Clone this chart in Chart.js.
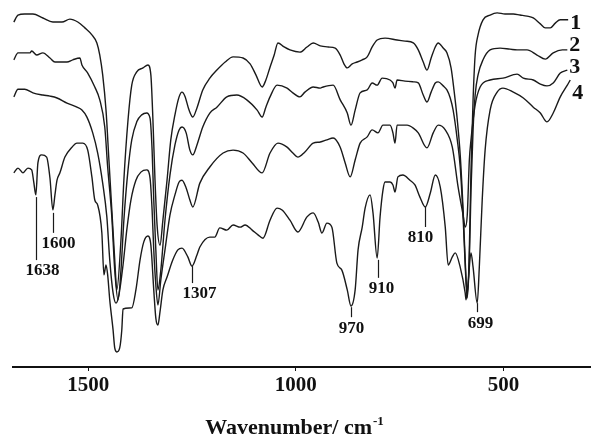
<!DOCTYPE html>
<html>
<head>
<meta charset="utf-8">
<script src="https://cdn.jsdelivr.net/npm/chart.js@4.4.1/dist/chart.umd.min.js"></script>
<style>
  html, body { margin: 0; padding: 0; background: #fff; }
  #irChart { display: block; }
</style>
</head>
<body>
<canvas id="irChart" width="591" height="438"></canvas>
<script>
// x = wavenumber (cm-1), y = transmittance (arbitrary %)
const wn1 = [1679,1669,1653,1633,1609,1585,1563,1544,1525,1508,1491,1479,1472,1465,1457,1450,1443,1436,1431,1421,1414,1404,1395,1383,1368,1356,1349,1344,1339,1334,1327,1320,1310,1301,1291,1281,1274,1267,1257,1248,1238,1224,1207,1190,1170,1151,1127,1110,1096,1081,1072,1062,1052,1043,1028,1014,990,973,958,941,922,905,893,884,876,864,852,840,828,816,804,785,756,737,717,705,693,684,674,664,657,645,636,626,619,611,604,597,592,587,582,578,573,568,561,549,532,515,496,476,460,443,428,411,399,387,375,363,344];
const tr1 = [94.0,95.9,96.2,96.2,95.1,94.0,94.0,94.8,94.0,92.4,90.5,88.3,85.0,79.6,70.0,56.4,42.8,29.2,21.0,34.6,50.9,67.3,76.8,80.4,81.5,82.3,79.6,67.3,50.9,38.7,33.2,40.0,50.9,61.9,68.7,73.6,74.9,73.8,70.0,68.1,70.6,75.5,78.7,80.9,83.1,84.5,84.2,82.6,79.6,76.3,78.2,81.7,85.0,88.3,87.2,86.4,85.8,87.2,88.3,87.5,87.2,86.9,85.0,82.6,81.5,82.6,83.1,83.7,84.5,87.2,89.1,89.6,89.1,88.8,88.3,86.4,83.1,80.9,84.2,87.2,88.3,86.9,85.6,81.5,75.5,67.3,57.8,42.8,29.2,19.6,31.9,53.7,72.8,85.0,90.5,94.6,95.9,96.5,96.2,96.2,95.9,95.6,95.1,93.5,92.4,92.4,93.7,94.6,94.6];

const wn2 = [1679,1669,1640,1636,1624,1609,1592,1580,1563,1551,1537,1520,1515,1501,1484,1472,1460,1453,1443,1436,1428,1421,1414,1404,1395,1383,1371,1359,1351,1346,1342,1337,1332,1325,1315,1303,1291,1281,1274,1264,1255,1248,1238,1224,1207,1190,1166,1142,1118,1093,1081,1072,1062,1045,1021,1007,990,978,958,941,934,910,893,876,867,857,845,828,816,804,792,773,766,761,756,737,717,705,693,684,674,664,657,645,636,628,621,611,604,597,592,587,582,578,573,568,561,549,532,508,484,467,443,419,399,380,358,346];
const tr2 = [83.7,85.6,85.6,86.1,85.0,85.6,84.2,83.1,83.1,83.1,83.7,84.2,82.3,80.1,76.3,72.8,65.4,54.5,40.9,26.4,18.3,26.4,40.0,53.7,61.9,66.8,68.7,69.2,67.8,59.1,45.5,31.9,21.0,26.4,40.0,52.3,60.5,64.6,65.4,63.8,59.1,57.8,60.5,65.4,69.2,70.8,73.6,74.1,72.8,70.0,68.1,70.8,73.6,76.8,76.0,74.7,73.6,74.9,76.3,76.0,76.3,76.8,72.8,69.2,65.9,70.0,74.7,75.5,77.4,76.8,78.7,78.2,77.4,76.0,78.2,77.9,77.7,77.4,74.1,72.2,74.9,77.4,77.7,76.6,75.5,73.3,70.0,61.9,54.5,40.9,27.8,18.8,29.2,48.2,64.6,74.1,79.6,83.7,86.4,86.9,86.6,86.4,86.4,85.0,83.9,85.6,86.4,86.4];

const wn3 = [1679,1669,1653,1633,1609,1592,1575,1551,1527,1515,1503,1489,1477,1465,1455,1448,1440,1433,1426,1416,1407,1397,1385,1373,1359,1351,1346,1342,1337,1332,1325,1315,1303,1291,1281,1274,1264,1255,1248,1231,1207,1175,1151,1127,1105,1081,1062,1043,1021,1007,995,978,958,941,925,910,893,881,869,857,845,828,816,802,790,773,766,761,756,732,717,705,684,669,657,640,623,609,597,592,587,582,578,568,556,532,501,467,452,428,411,395,380,363,346];
const tr3 = [73.6,75.7,75.7,74.7,74.1,73.8,73.3,71.9,70.8,70.0,68.1,63.8,58.3,50.1,40.9,29.2,20.2,17.4,19.6,27.8,37.3,45.5,50.9,53.1,53.7,51.5,42.8,31.9,22.3,16.9,23.7,31.9,41.4,46.9,50.4,50.9,48.8,45.5,43.6,50.1,54.5,58.3,59.1,58.3,55.6,52.9,58.3,61.0,59.9,58.3,57.2,58.6,61.0,61.3,61.9,62.4,59.9,55.6,51.8,56.4,61.0,62.7,64.6,63.8,65.9,65.9,63.8,61.0,65.9,65.9,65.1,63.8,59.7,63.8,65.9,64.6,59.9,49.0,41.4,38.1,41.4,56.4,61.9,71.4,76.3,78.2,78.7,79.8,78.7,78.2,77.1,76.6,77.4,80.1,80.9];

const wn4 = [1679,1669,1657,1645,1636,1631,1626,1621,1612,1600,1592,1585,1580,1575,1568,1556,1539,1527,1513,1501,1491,1484,1477,1467,1462,1457,1453,1448,1440,1436,1431,1424,1419,1416,1395,1385,1375,1366,1356,1349,1342,1337,1332,1327,1320,1310,1296,1284,1274,1260,1250,1238,1231,1207,1195,1183,1166,1151,1134,1122,1105,1091,1079,1062,1045,1033,1014,995,973,958,946,937,925,913,901,889,876,867,857,850,840,833,821,814,804,797,790,785,773,766,761,754,742,725,713,701,688,676,664,652,640,633,623,616,604,592,590,585,578,573,563,558,551,544,532,515,501,476,452,428,411,395,380,363,346,339];
const tr4 = [52.9,54.2,52.9,54.2,53.7,50.4,46.9,55.6,57.8,57.2,51.5,42.8,46.9,50.9,52.9,57.2,59.9,61.0,61.0,59.1,51.8,45.5,44.1,36.5,25.1,27.8,25.1,18.3,10.1,5.2,4.1,5.2,10.1,15.8,16.1,21.0,29.2,34.1,35.7,33.2,21.0,13.3,11.4,15.0,21.0,24.5,29.2,31.9,32.4,30.0,27.5,30.5,32.7,35.4,35.4,37.9,37.3,38.7,38.1,38.7,37.3,36.0,35.1,40.0,43.3,42.8,40.0,36.8,40.9,42.0,39.5,36.5,39.2,38.1,28.3,26.4,21.0,16.6,21.0,31.9,38.1,43.3,46.9,42.0,29.7,40.9,48.2,50.4,50.4,49.6,47.7,51.8,52.3,50.9,49.6,46.3,43.6,47.4,52.3,49.0,38.1,27.8,30.0,31.1,27.2,20.2,18.3,22.9,31.1,27.2,17.4,27.2,45.5,59.1,70.0,74.9,76.0,74.9,73.3,70.8,69.2,66.8,69.2,73.6,76.8,78.2];

const seriesNames = ['1', '2', '3', '4'];
const xTicks = [1500, 1000, 500];

// marked bands on spectrum 4
const peakLabels = ['1638', '1600', '1307', '970', '910', '810', '699'];
const peakWn = [1626, 1585, 1250, 867, 802, 688, 563];
const peakT = [46.3, 42.0, 27.5, 16.3, 29.2, 43.6, 17.4];

const serif = "'Liberation Serif', 'Times New Roman', serif";

function toPoints(xs, ys) {
  return xs.map((x, i) => ({ x: x, y: ys[i] }));
}

const annotate = {
  id: 'annotate',
  afterDatasetsDraw(chart) {
    const c = chart.ctx;
    const xs = chart.scales.x, ys = chart.scales.y;
    const leaderLen = [63, 20, 17, 10, 18, 20, 9];
    const textDx = [6, 5, 7, 0, 3, -5, 3];
    c.save();
    c.strokeStyle = '#1a1a1a';
    c.lineWidth = 1.2;
    c.fillStyle = '#111';
    c.font = 'bold 17px ' + serif;
    c.textAlign = 'center';
    c.textBaseline = 'middle';
    peakLabels.forEach((lab, i) => {
      const px = Math.round(xs.getPixelForValue(peakWn[i])) + 0.5;
      const top = ys.getPixelForValue(peakT[i]);
      const bot = top + leaderLen[i];
      c.beginPath();
      c.moveTo(px, top);
      c.lineTo(px, bot);
      c.stroke();
      c.fillText(lab, px + textDx[i], bot + 11);
    });

    // curve numbers at the right end
    const nameDy = [3, -5, -3, 13];
    c.font = 'bold 22px ' + serif;
    c.textAlign = 'left';
    chart.data.datasets.forEach((ds, i) => {
      const pts = chart.getDatasetMeta(i).data;
      const last = pts[pts.length - 1];
      c.fillText(seriesNames[i], last.x + 2, last.y + nameDy[i]);
    });

    // axis title with superscript
    const main = 'Wavenumber/ cm';
    const sup = '-1';
    c.font = 'bold 22px ' + serif;
    const w1 = c.measureText(main).width;
    c.font = 'bold 13px ' + serif;
    const w2 = c.measureText(sup).width;
    const x0 = 294 - (w1 + w2) / 2;
    c.textBaseline = 'alphabetic';
    c.font = 'bold 22px ' + serif;
    c.fillText(main, x0, 434);
    c.font = 'bold 13px ' + serif;
    c.fillText(sup, x0 + w1 + 1, 425);
    c.restore();
  }
};

const chart = new Chart(document.getElementById('irChart'), {
  type: 'line',
  data: {
    datasets: [
      { label: seriesNames[0], data: toPoints(wn1, tr1) },
      { label: seriesNames[1], data: toPoints(wn2, tr2) },
      { label: seriesNames[2], data: toPoints(wn3, tr3) },
      { label: seriesNames[3], data: toPoints(wn4, tr4) }
    ]
  },
  options: {
    responsive: false,
    animation: false,
    devicePixelRatio: 1,
    layout: { padding: { left: 13, right: 0, top: 0, bottom: 0 } },
    elements: {
      point: { radius: 0 },
      line: { borderColor: '#1a1a1a', borderWidth: 1.4, cubicInterpolationMode: 'monotone', fill: false }
    },
    plugins: {
      legend: { display: false },
      tooltip: { enabled: false },
      title: { display: false }
    },
    scales: {
      x: {
        type: 'linear',
        reverse: true,
        min: 289,
        max: 1681,
        afterBuildTicks: (scale) => { scale.ticks = xTicks.map(v => ({ value: v })); },
        afterFit: (scale) => { scale.height = 71; },
        ticks: {
          color: '#111',
          font: { family: serif, size: 21, weight: 'bold' },
          padding: 2,
          maxRotation: 0,
          autoSkip: false,
          callback: (v) => String(v)
        },
        grid: { display: true, drawOnChartArea: false, drawTicks: true, tickLength: 4, color: '#111', lineWidth: 1 },
        border: { display: true, color: '#111', width: 2 }
      },
      y: {
        display: false,
        min: 0,
        max: 100
      }
    }
  },
  plugins: [annotate]
});
</script>
</body>
</html>
